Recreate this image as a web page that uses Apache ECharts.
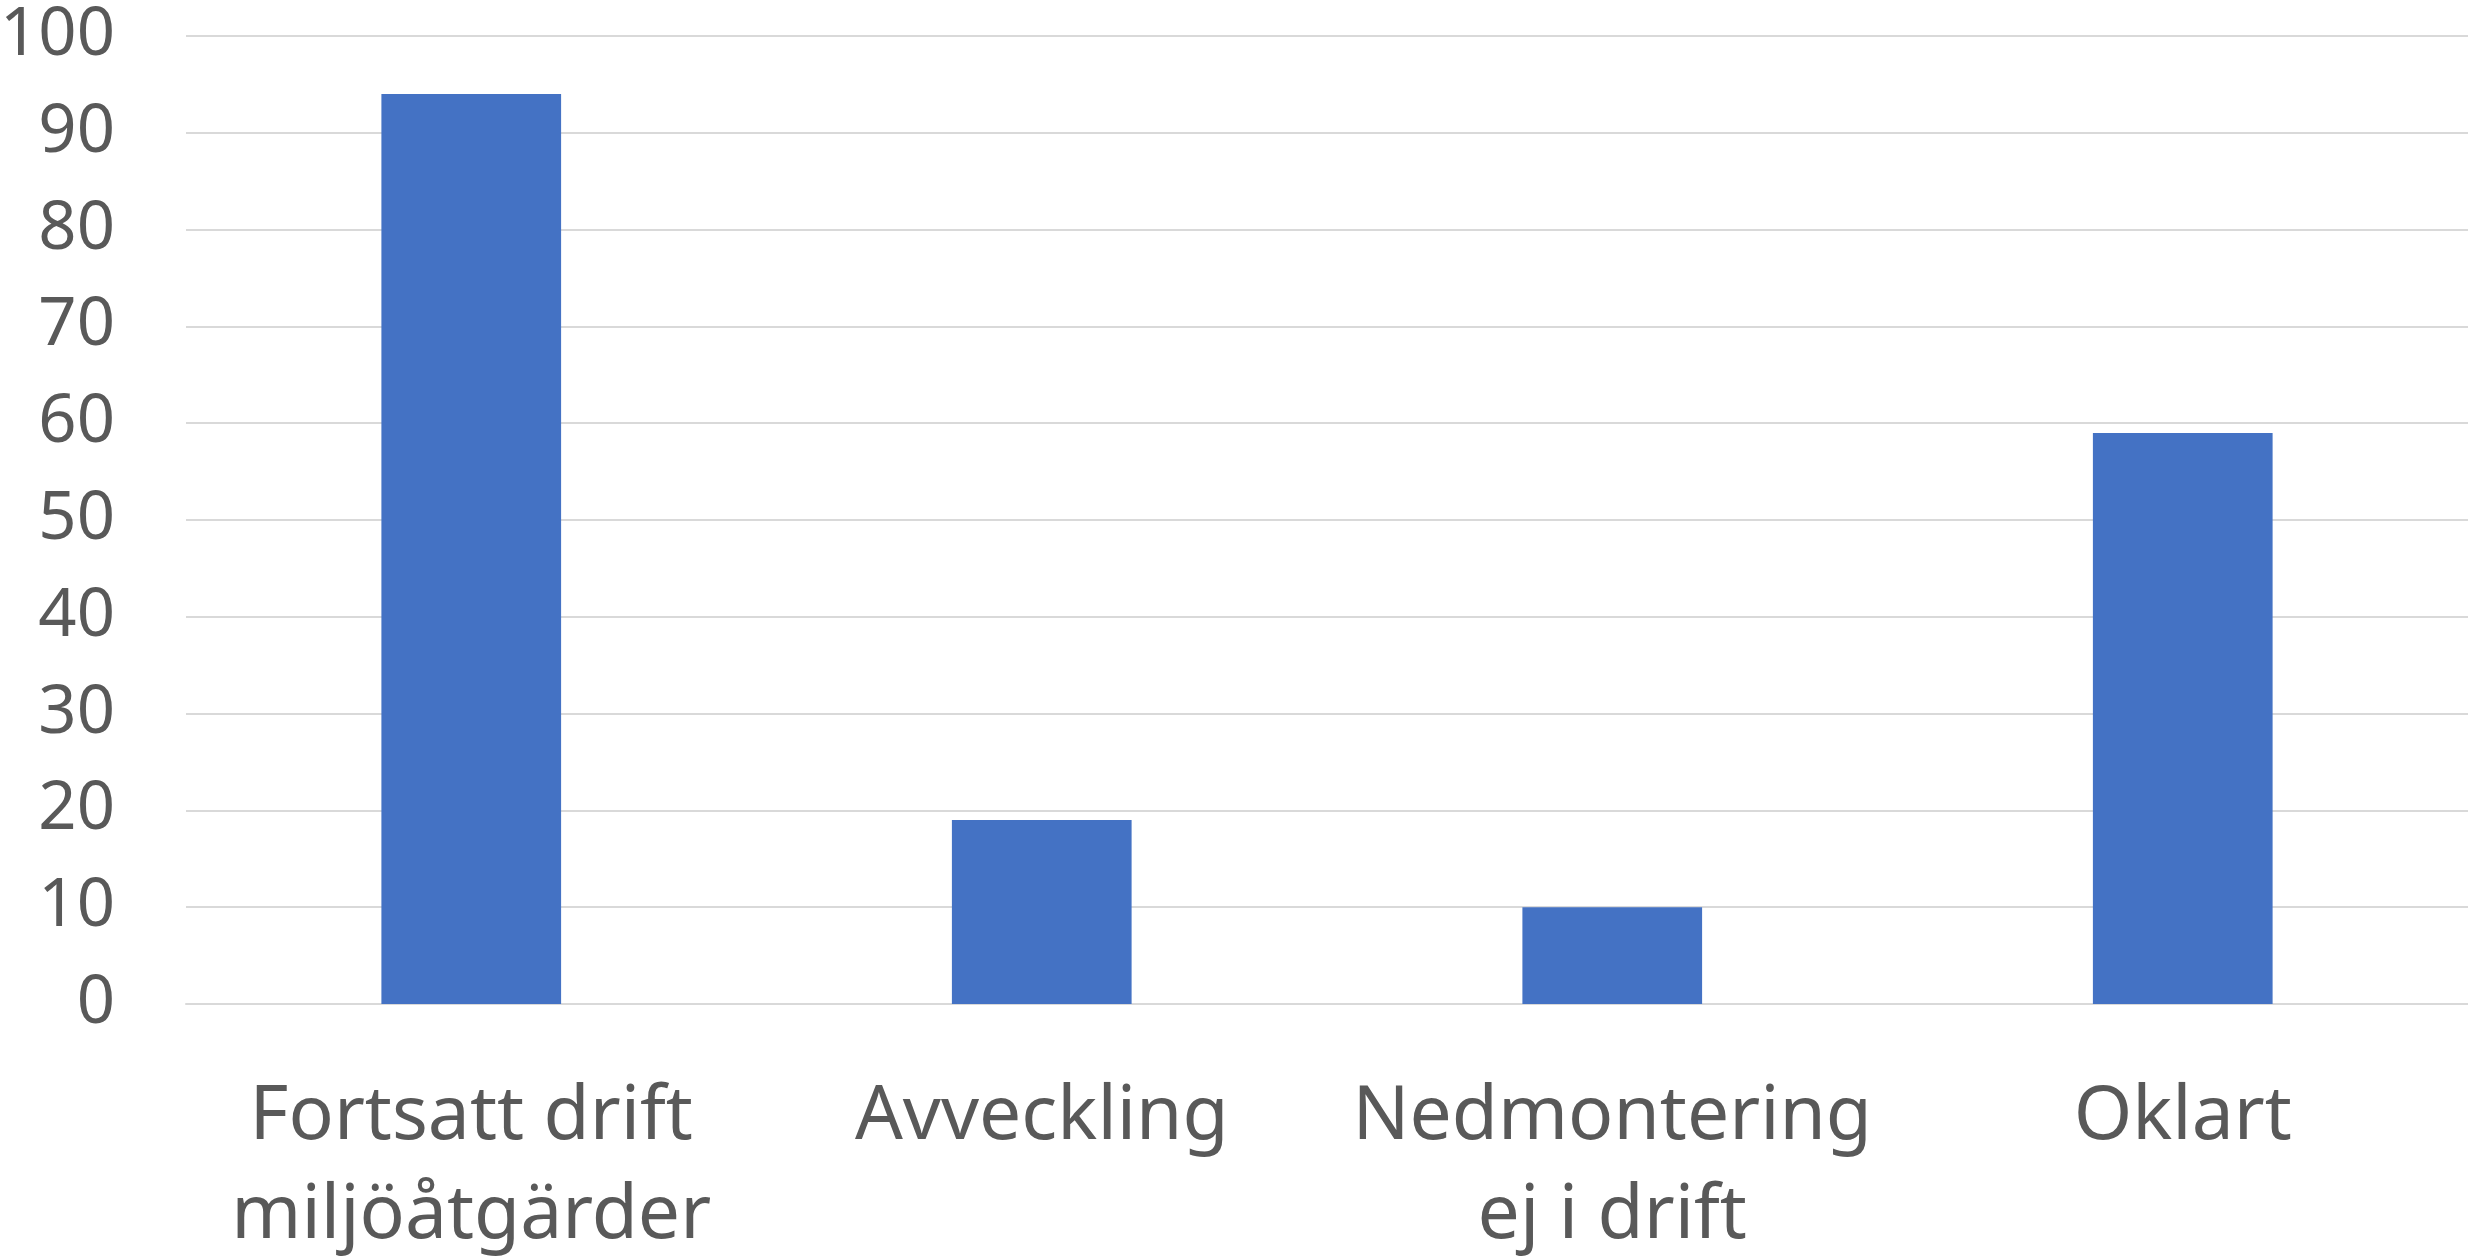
<!DOCTYPE html>
<html>
<head>
<meta charset="utf-8">
<script src="https://cdn.jsdelivr.net/npm/echarts@6/dist/echarts.min.js"></script>
<style>
html,body{margin:0;padding:0;background:#fff;}
#chart{width:2468px;height:1256px;}
</style>
</head>
<body>
<div id="chart"></div>
<script>
const categories = ["Fortsatt drift\nmiljöåtgärder", "Avveckling", "Nedmontering\nej i drift", "Oklart"];
const values = [94, 19, 10, 59];
const yTicks = [0, 10, 20, 30, 40, 50, 60, 70, 80, 90, 100];

const chart = echarts.init(document.getElementById('chart'));
chart.setOption({
  animation: false,
  backgroundColor: '#ffffff',
  grid: { left: 186, right: 0, top: 36, bottom: 252, containLabel: false, outerBoundsMode: 'none' },
  xAxis: {
    type: 'category',
    data: categories,
    axisLine: { show: true, lineStyle: { color: '#d9d9d9', width: 2 } },
    axisTick: { show: false },
    axisLabel: {
      color: '#595959', fontFamily: 'Noto Sans', fontSize: 75,
      lineHeight: 99, margin: 64, interval: 0
    }
  },
  yAxis: {
    type: 'value',
    min: yTicks[0], max: yTicks[yTicks.length - 1], interval: 10,
    axisLine: { show: false },
    axisTick: { show: false },
    splitLine: { lineStyle: { color: '#d9d9d9', width: 2 } },
    axisLabel: {
      color: '#595959', fontFamily: 'Noto Sans', fontSize: 67, margin: 71
    }
  },
  series: [{
    type: 'bar',
    data: values,
    barWidth: '31.5%',
    itemStyle: { color: '#4472c4' }
  }]
});
</script>
</body>
</html>
